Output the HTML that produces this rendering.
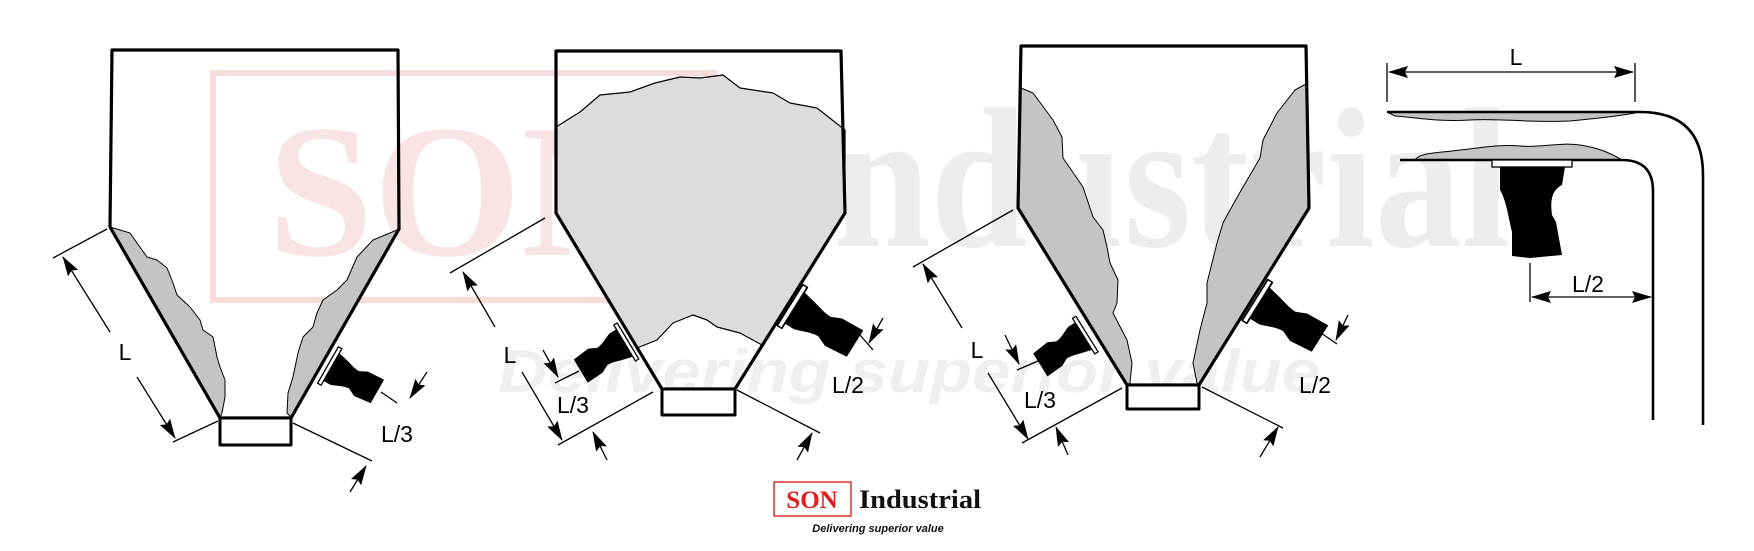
<!DOCTYPE html>
<html><head><meta charset="utf-8"><style>
html,body{margin:0;padding:0;background:#fff;}
svg{display:block;}
text{font-family:"Liberation Sans",sans-serif;}
</style></head><body>
<svg width="1754" height="551" viewBox="0 0 1754 551" xmlns="http://www.w3.org/2000/svg">
<defs>
<marker id="ah" markerWidth="20" markerHeight="12" refX="19" refY="6" orient="auto" markerUnits="userSpaceOnUse">
<path d="M0,0 L20,6 L0,12 L3,6 Z" fill="#000"/>
</marker>
<g id="vib">
<path d="M4,-16 L12,-14 C20,-12 24,-10 30,-10 L38,-14 L56,-15 L56,12 L38,14 L30,10 C24,10 18,14 12,16 L4,16 Z" fill="#000"/>
<rect x="0" y="-21" width="4" height="42" fill="#fff" stroke="#000" stroke-width="1.3"/>
</g>
</defs>

<!-- watermark -->
<rect x="213" y="73" width="501" height="227" fill="none" stroke="#f7dcdc" stroke-width="6"/>
<text x="463" y="255" text-anchor="middle" font-size="190" font-weight="bold" fill="#f8e4e4" style="font-family:'Liberation Serif',serif">SON</text>
<text x="766" y="246" font-size="200" font-weight="bold" fill="#ededed" textLength="744" lengthAdjust="spacingAndGlyphs" style="font-family:'Liberation Serif',serif">Industrial</text>
<text x="498" y="392" font-size="60" font-weight="bold" font-style="italic" fill="#efefef" textLength="822" lengthAdjust="spacingAndGlyphs">Delivering superior value</text>

<g stroke-linejoin="round">
<!-- Hopper 1 -->
<path d="M110,227 L220,418 L222,413 L225,397 L225,380 L220,367 L217,357 L213,337 L203,330 L200,320 L190,307 L177,295 L173,283 L167,268 L157,260 L147,257 L137,243 L130,233 L120,230 Z" fill="#c4c4c4" stroke="#000" stroke-width="1"/>
<path d="M399,229 L291,418 L292,418 L287,413 L288,393 L293,377 L298,353 L303,337 L313,327 L317,313 L323,300 L337,290 L347,280 L357,257 L373,240 L397,230 Z" fill="#c4c4c4" stroke="#000" stroke-width="1"/>
<path d="M112,50 L398,50 L399,229 L291,418 L220,418 L110,227 Z" fill="none" stroke="#000" stroke-width="3.2"/>
<rect x="220" y="418" width="71" height="27" fill="#fff" stroke="#000" stroke-width="3"/>
<use href="#vib" transform="translate(328,365) rotate(29.7)"/>

<!-- Hopper 2 -->
<path d="M556,127 L580,112 L600,95 L630,92 L655,83 L680,77 L700,78 L723,75 L740,88 L773,93 L790,103 L817,108 L845,130 L845,213 L762,345 L740,333 L717,327 L707,320 L693,315 L673,323 L657,340 L637,348 L556,213 Z" fill="#dcdcdc" stroke="#000" stroke-width="1.2"/>
<path d="M556,51 L841,51 L845,213 L735,389 L662,389 L556,213 Z" fill="none" stroke="#000" stroke-width="3.2"/>
<rect x="662" y="389" width="73" height="26" fill="#fff" stroke="#000" stroke-width="3"/>
<use href="#vib" transform="translate(628,341) rotate(149)"/>
<use href="#vib" transform="translate(790,305) rotate(32) scale(1.35,1.15)"/>

<!-- Hopper 3 -->
<path d="M1021,88 L1033,93 L1053,120 L1062,137 L1063,158 L1083,187 L1093,217 L1103,230 L1107,247 L1110,263 L1118,280 L1117,303 L1113,313 L1127,340 L1132,363 L1130,383 L1127,385 L1018,208 Z" fill="#c4c4c4" stroke="#000" stroke-width="1"/>
<path d="M1306,84 L1295,90 L1277,113 L1263,140 L1260,158 L1243,187 L1230,210 L1223,223 L1217,243 L1212,263 L1207,283 L1207,303 L1200,330 L1193,363 L1197,383 L1199,385 L1309,208 Z" fill="#c4c4c4" stroke="#000" stroke-width="1"/>
<path d="M1021,46 L1306,46 L1309,208 L1199,385 L1127,385 L1018,208 Z" fill="none" stroke="#000" stroke-width="3.2"/>
<rect x="1127" y="385" width="72" height="24" fill="#fff" stroke="#000" stroke-width="3"/>
<use href="#vib" transform="translate(1087,334) rotate(148)"/>
<use href="#vib" transform="translate(1255,300) rotate(32) scale(1.35,1.15)"/>
</g>

<!-- dimension lines -->
<g stroke="#000" stroke-width="1.3" fill="none">
<line x1="53" y1="258" x2="107" y2="229"/>
<line x1="173" y1="442" x2="218" y2="421"/>
<line x1="110" y1="332" x2="63" y2="257" marker-end="url(#ah)"/>
<line x1="137" y1="377" x2="175" y2="438" marker-end="url(#ah)"/>
<line x1="293" y1="423" x2="372" y2="461"/>
<line x1="381" y1="392" x2="397" y2="403"/>
<line x1="427" y1="372" x2="410" y2="398" marker-end="url(#ah)"/>
<line x1="350" y1="492" x2="366" y2="466" marker-end="url(#ah)"/>
<line x1="450" y1="273" x2="545" y2="218"/>
<line x1="558" y1="445" x2="653" y2="392"/>
<line x1="495" y1="327" x2="463" y2="272" marker-end="url(#ah)"/>
<line x1="522" y1="372" x2="562" y2="440" marker-end="url(#ah)"/>
<line x1="555" y1="383" x2="579" y2="371"/>
<line x1="543" y1="350" x2="558" y2="377" marker-end="url(#ah)"/>
<line x1="607" y1="460" x2="593" y2="432" marker-end="url(#ah)"/>
<line x1="737" y1="390" x2="820" y2="433"/>
<line x1="797" y1="460" x2="812" y2="433" marker-end="url(#ah)"/>
<line x1="860" y1="335" x2="873" y2="350"/>
<line x1="883" y1="318" x2="869" y2="343" marker-end="url(#ah)"/>
<line x1="913" y1="267" x2="1013" y2="210"/>
<line x1="1022" y1="443" x2="1122" y2="388"/>
<line x1="962" y1="328" x2="923" y2="264" marker-end="url(#ah)"/>
<line x1="988" y1="373" x2="1028" y2="439" marker-end="url(#ah)"/>
<line x1="1017" y1="370" x2="1038" y2="361"/>
<line x1="1005" y1="335" x2="1019" y2="364" marker-end="url(#ah)"/>
<line x1="1068" y1="455" x2="1056" y2="427" marker-end="url(#ah)"/>
<line x1="1202" y1="387" x2="1283" y2="428"/>
<line x1="1260" y1="457" x2="1278" y2="427" marker-end="url(#ah)"/>
<line x1="1321" y1="333" x2="1337" y2="344"/>
<line x1="1348" y1="315" x2="1336" y2="340" marker-end="url(#ah)"/>
<line x1="1387" y1="63" x2="1387" y2="102"/>
<line x1="1635" y1="63" x2="1635" y2="102"/>
<line x1="1510" y1="72" x2="1389" y2="72" marker-end="url(#ah)"/>
<line x1="1510" y1="72" x2="1633" y2="72" marker-end="url(#ah)"/>
<line x1="1530" y1="263" x2="1530" y2="302"/>
<line x1="1560" y1="297" x2="1532" y2="297" marker-end="url(#ah)"/>
<line x1="1560" y1="297" x2="1651" y2="297" marker-end="url(#ah)"/>
</g>

<!-- right diagram -->
<path d="M1387,112 L1640,112 C1620,116 1600,118 1570,121 C1530,123 1500,118 1470,120 C1440,122 1420,118 1395,116 Z" fill="#c4c4c4" stroke="#000" stroke-width="1"/>
<path d="M1415,160 C1420,152 1440,153 1460,150 C1480,148 1500,144 1520,146 C1540,148 1560,142 1580,145 C1600,148 1612,154 1622,160 Z" fill="#c4c4c4" stroke="#000" stroke-width="1"/>
<path d="M1387,112 L1640,112 Q1703,112 1703,175 L1703,425" fill="none" stroke="#000" stroke-width="2.6"/>
<path d="M1400,160 L1622,160 Q1653,160 1653,191 L1653,420" fill="none" stroke="#000" stroke-width="2.6"/>
<path d="M1500,167 L1565,167 L1562,185 C1552,190 1550,200 1552,215 L1556,222 L1562,255 L1530,258 L1512,256 L1512,232 C1508,215 1506,200 1500,190 Z" fill="#000"/>
<rect x="1492" y="160" width="80" height="7" fill="#fff" stroke="#000" stroke-width="1.3"/>

<!-- labels -->
<g font-size="23" fill="#000" text-anchor="middle">
<text x="125" y="360">L</text>
<text x="397" y="442">L/3</text>
<text x="510" y="363">L</text>
<text x="573" y="413">L/3</text>
<text x="848" y="393">L/2</text>
<text x="977" y="358">L</text>
<text x="1040" y="408">L/3</text>
<text x="1315" y="393">L/2</text>
<text x="1516" y="65">L</text>
<text x="1588" y="292">L/2</text>
</g>

<!-- logo -->
<rect x="774" y="482" width="77" height="34" fill="#fff" stroke="#e03030" stroke-width="1.5"/>
<text x="812" y="508" text-anchor="middle" font-size="25" font-weight="bold" fill="#e02020" style="font-family:'Liberation Serif',serif">SON</text>
<text x="859" y="508" font-size="26" font-weight="bold" fill="#111" textLength="122" lengthAdjust="spacingAndGlyphs" style="font-family:'Liberation Serif',serif">Industrial</text>
<text x="878" y="532" text-anchor="middle" font-size="11" font-weight="bold" font-style="italic" fill="#111">Delivering superior value</text>
</svg>
</body></html>
